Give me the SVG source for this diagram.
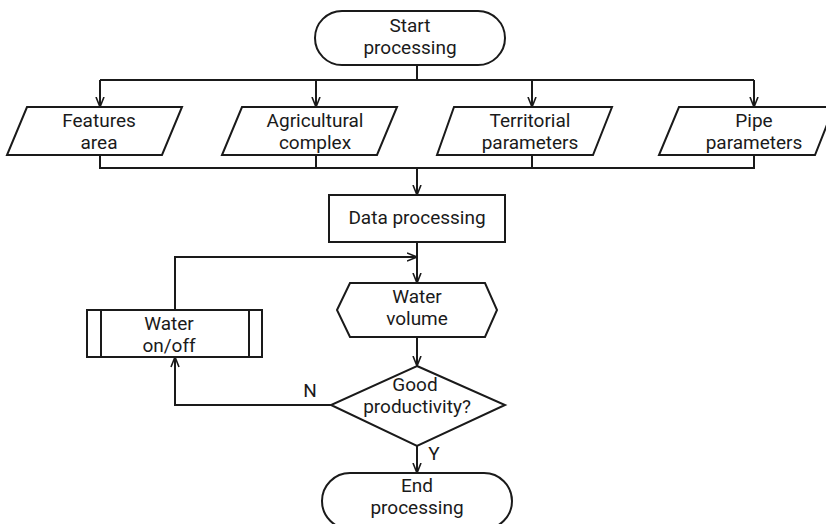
<svg xmlns="http://www.w3.org/2000/svg" width="826" height="524" viewBox="0 0 826 524">
<defs>
<marker id="arr" viewBox="0 0 10 10" refX="10" refY="5" markerWidth="11" markerHeight="10" markerUnits="userSpaceOnUse" orient="auto">
<path d="M0,1 L10,5 L0,9" fill="none" stroke="#1a1a1a" stroke-width="1.6"/>
</marker>
<style>
.s{fill:#fff;stroke:#1a1a1a;stroke-width:2}
.c{fill:none;stroke:#1a1a1a;stroke-width:2}
.t{font-family:Roboto,"Open Sans",sans-serif;font-size:19px;fill:#1a1a1a;text-anchor:middle}
</style>
</defs>
<rect width="826" height="524" fill="#fff"/>
<g id="connectors">
<path class="c" d="M417,65 V80"/>
<path class="c" d="M100,80 H754"/>
<path class="c" d="M100,80 V107" marker-end="url(#arr)"/>
<path class="c" d="M316,80 V107" marker-end="url(#arr)"/>
<path class="c" d="M532,80 V107" marker-end="url(#arr)"/>
<path class="c" d="M754,80 V107" marker-end="url(#arr)"/>
<path class="c" d="M100,155 V168 H754 V155"/>
<path class="c" d="M316,155 V168"/>
<path class="c" d="M532,155 V168"/>
<path class="c" d="M417,168 V195" marker-end="url(#arr)"/>
<path class="c" d="M417,242 V283" marker-end="url(#arr)"/>
<path class="c" d="M175,310 V257 H417" marker-end="url(#arr)"/>
<path class="c" d="M417,337 V366" marker-end="url(#arr)"/>
<path class="c" d="M417,446 V473" marker-end="url(#arr)"/>
<path class="c" d="M331,405 H175 V357" marker-end="url(#arr)"/>
<text class="t" x="310" y="397">N</text>
<text class="t" x="434" y="460">Y</text>
</g>
<g id="start">
<rect class="s" x="315" y="11" width="190" height="54" rx="27" ry="27"/>
<text class="t" x="410" y="32">Start</text>
<text class="t" x="410" y="54">processing</text>
</g>
<g id="features">
<polygon class="s" points="27,107 182,107 162,155 7,155"/>
<text class="t" x="99" y="127">Features</text>
<text class="t" x="99" y="149">area</text>
</g>
<g id="agricultural">
<polygon class="s" points="242,107 397,107 377,155 222,155"/>
<text class="t" x="315" y="127">Agricultural</text>
<text class="t" x="315" y="149">complex</text>
</g>
<g id="territorial">
<polygon class="s" points="454,107 612,107 593,155 437,155"/>
<text class="t" x="530" y="127">Territorial</text>
<text class="t" x="530" y="149">parameters</text>
</g>
<g id="pipe">
<polygon class="s" points="679,107 834,107 815,155 659,155"/>
<text class="t" x="754" y="127">Pipe</text>
<text class="t" x="754" y="149">parameters</text>
</g>
<g id="data">
<rect class="s" x="329" y="195" width="176" height="47"/>
<text class="t" x="417" y="224">Data processing</text>
</g>
<g id="volume">
<polygon class="s" points="337,310 350,283 485,283 497,310 485,337 350,337"/>
<text class="t" x="417" y="303">Water</text>
<text class="t" x="417" y="325">volume</text>
</g>
<g id="onoff">
<rect class="s" x="87" y="310" width="175" height="47"/>
<path class="c" d="M101,310 V357 M249,310 V357"/>
<text class="t" x="169" y="330">Water</text>
<text class="t" x="169" y="352">on/off</text>
</g>
<g id="decision">
<polygon class="s" points="417,366 505,405 417,446 331,405"/>
<text class="t" x="415" y="391">Good</text>
<text class="t" x="417" y="413">productivity?</text>
</g>
<g id="end">
<rect class="s" x="322" y="473" width="190" height="56" rx="28" ry="28"/>
<text class="t" x="417" y="492">End</text>
<text class="t" x="417" y="514">processing</text>
</g>
</svg>
